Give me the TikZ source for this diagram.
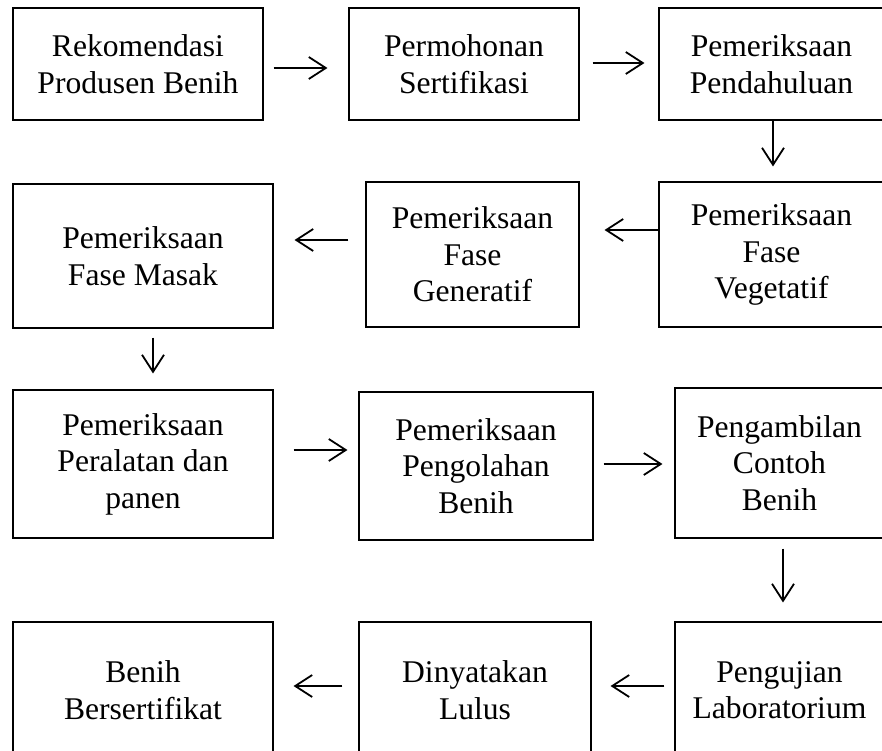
\documentclass[tikz,border=0pt]{standalone}
\usepackage{fontspec}
\setmainfont{Liberation Serif}
\usetikzlibrary{arrows.meta}
\tikzset{
  boxnode/.style={draw, line width=1.1pt, inner sep=0pt, align=center,
    font={\fontsize{31.6}{36.5}\selectfont}},
  rowone/.style={font={\fontsize{31.6}{32}\selectfont}},
  arr/.style={line width=1.8pt, -{Straight Barb[length=17pt,width=22pt,line width=1.8pt]}}
}
\newcommand{\bx}[6]{% name, x1, y1, x2, y2, text
  \node[boxnode, minimum width={(#4-#2)*1pt}, minimum height={(#5-#3)*1pt}]
    (#1) at ({(#2+#4)/2},{(#3+#5)/2}) {#6};}
\begin{document}
\begin{tikzpicture}[x=1pt,y=-1pt]
\useasboundingbox (0,0) rectangle (882,751);
\clip (0,0) rectangle (882,751);
\fill[white] (0,0) rectangle (882,751);
% row 1
\begin{scope}[rowone]
\bx{b1}{13}{8}{263}{120}{Rekomendasi\\Produsen Benih}
\bx{b2}{349}{8}{579}{120}{Permohonan\\Sertifikasi}
\bx{b3}{659}{8}{884}{120}{Pemeriksaan\\Pendahuluan}
\end{scope}
% row 2
\bx{b4}{13}{184}{273}{328}{Pemeriksaan\\Fase Masak}
\bx{b5}{366}{182}{579}{327}{Pemeriksaan\\Fase\\Generatif}
\bx{b6}{659}{182}{884}{327}{Pemeriksaan\\Fase\\Vegetatif}
% row 3
\bx{b7}{13}{390}{273}{538}{Pemeriksaan\\Peralatan dan\\panen}
\bx{b8}{359}{392}{593}{540}{Pemeriksaan\\Pengolahan\\Benih}
\bx{b9}{675}{388}{884}{538}{Pengambilan\\Contoh\\Benih}
% row 4
\bx{b10}{13}{622}{273}{758}{Benih\\Bersertifikat}
\bx{b11}{359}{622}{591}{758}{Dinyatakan\\Lulus}
\bx{b12}{675}{622}{884}{758}{Pengujian\\Laboratorium}
% connectors
\draw[arr, shorten <=10pt, shorten >=21pt] (b1.east |- 0,68) -- (b2.west |- 0,68);
\draw[arr, shorten <=13pt, shorten >=14pt] (b2.east |- 0,63) -- (b3.west |- 0,63);
\draw[arr, shorten >=15pt] (b3.south -| 773,0) -- (b6.north -| 773,0);
\draw[arr, shorten >=25pt] (b6.west |- 0,230) -- (b5.east |- 0,230);
\draw[arr, shorten <=17pt, shorten >=21pt] (b5.west |- 0,240) -- (b4.east |- 0,240);
\draw[arr, shorten <=9pt, shorten >=16pt] (b4.south -| 153,0) -- (b7.north -| 153,0);
\draw[arr, shorten <=20pt, shorten >=11pt] (b7.east |- 0,450) -- (b8.west |- 0,450);
\draw[arr, shorten <=10pt, shorten >=12pt] (b8.east |- 0,464) -- (b9.west |- 0,464);
\draw[arr, shorten <=10pt, shorten >=19pt] (b9.south -| 783,0) -- (b12.north -| 783,0);
\draw[arr, shorten <=10pt, shorten >=19pt] (b12.west |- 0,686) -- (b11.east |- 0,686);
\draw[arr, shorten <=16pt, shorten >=20pt] (b11.west |- 0,686) -- (b10.east |- 0,686);
\end{tikzpicture}
\end{document}
